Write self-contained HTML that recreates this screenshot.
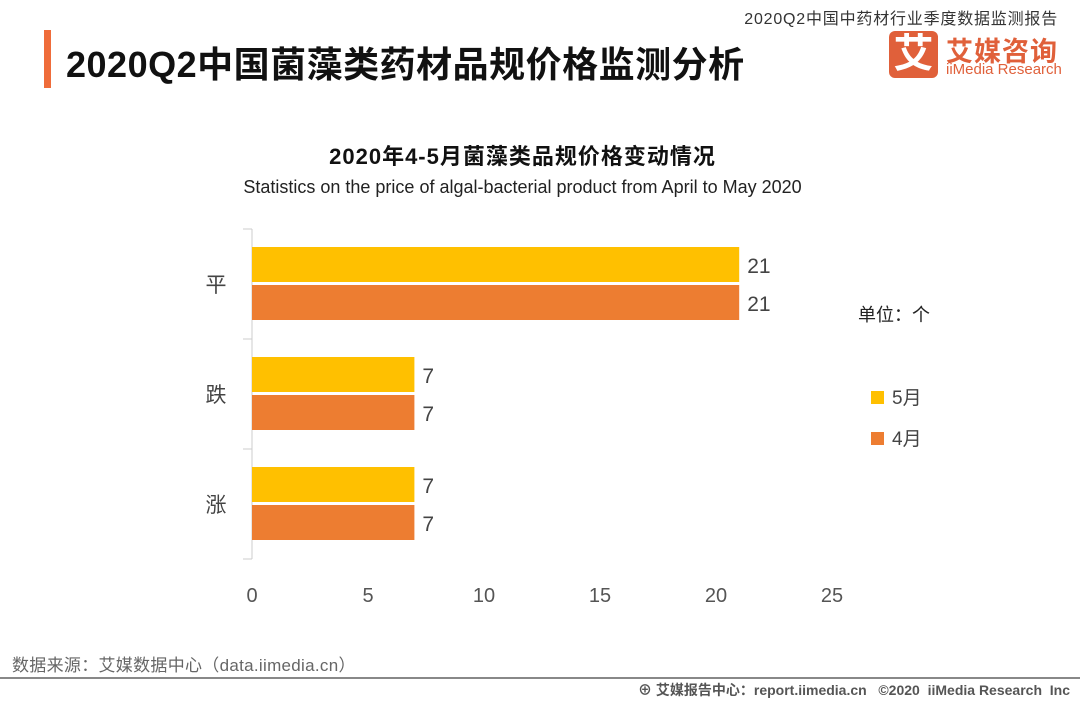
<!DOCTYPE html>
<html><head><meta charset="utf-8"><style>
body{margin:0;width:1080px;height:702px;background:#fff;overflow:hidden;font-family:"Liberation Sans","Noto Sans CJK SC",sans-serif;position:relative}
.a{position:absolute;white-space:nowrap}
</style></head><body>
<div class="a" style="right:22px;top:5px;font-size:16px;letter-spacing:0.8px;color:#333">2020Q2中国中药材行业季度数据监测报告</div>
<div class="a" style="left:44px;top:30px;width:7px;height:58px;background:#ef6c3a"></div>
<div class="a" style="left:66px;top:36px;font-size:36px;letter-spacing:0.5px;font-weight:bold;color:#111">2020Q2中国菌藻类药材品规价格监测分析</div>
<div class="a" style="left:889px;top:31px;width:49px;height:47px;background:#e0603a;border-radius:6px;color:#fff;font-size:40px;font-weight:bold;text-align:center;line-height:47px">艾</div>
<div class="a" style="left:946px;top:30px;font-size:27px;font-weight:bold;color:#e0603a;letter-spacing:1px">艾媒咨询</div>
<div class="a" style="left:946px;top:61px;font-size:15px;color:#e0603a">iiMedia Research</div>
<div class="a" style="left:0;width:1045px;text-align:center;top:139px;font-size:22px;letter-spacing:1px;font-weight:bold;color:#111">2020年4-5月菌藻类品规价格变动情况</div>
<div class="a" style="left:0;width:1045px;text-align:center;top:177px;font-size:18px;color:#222">Statistics on the price of algal-bacterial product from April to May 2020</div>
<div class="a" style="left:858px;top:301px;font-size:18px;color:#222">单位：个</div>
<div class="a" style="left:871px;top:383px;font-size:19px;color:#444"><span style="display:inline-block;width:13px;height:13px;background:#ffc000;margin-right:8px"></span>5月</div>
<div class="a" style="left:871px;top:424px;font-size:19px;color:#444"><span style="display:inline-block;width:13px;height:13px;background:#ed7d31;margin-right:8px"></span>4月</div>
<svg class="a" style="left:0;top:0" width="1080" height="702" id="chart"></svg>
<div class="a" style="left:12px;top:651px;font-size:17px;letter-spacing:0.3px;color:#666">数据来源：艾媒数据中心（data.iimedia.cn）</div>
<div class="a" style="left:0;top:677px;width:1080px;height:2px;background:#888"></div>
<div class="a" style="right:10px;top:680px;font-size:14px;color:#555;font-weight:bold">⊕ 艾媒报告中心：report.iimedia.cn &nbsp; ©2020 &nbsp;iiMedia Research &nbsp;Inc</div>
<script>
const categories=["平","跌","涨"];
const may=[21,7,7];
const april=[21,7,7];
const ticks=[0,5,10,15,20,25];
const svg=document.getElementById('chart');
const NS='http://www.w3.org/2000/svg';
const x0=252,xs=(832-252)/25,top0=229,band=110;
const X=v=>x0+v*xs;
function mk(t,a){const e=document.createElementNS(NS,t);for(const k in a)e.setAttribute(k,a[k]);svg.appendChild(e);return e;}
let ax=mk('line',{x1:x0,x2:x0,y1:top0,y2:top0+band*3,stroke:'#ccc','stroke-width':1});


for(let i=0;i<=3;i++){const t=mk('line',{x1:x0-9,x2:x0,y1:top0+band*i,y2:top0+band*i,stroke:'#ccc'});

}
ticks.forEach(v=>{const t=mk('text',{x:X(v),y:602,'text-anchor':'middle','font-size':20,fill:'#555','font-family':'Liberation Sans, sans-serif'});t.textContent=v;

});
categories.forEach((c,i)=>{const b=top0+band*i;
const l=mk('text',{x:216,y:b+band/2+8,'text-anchor':'middle','font-size':21,fill:'#444','font-family':'Noto Sans CJK SC, sans-serif'});l.textContent=c;


[[may[i],'#ffc000',18,'bar-may'],[april[i],'#ed7d31',56,'bar-april']].forEach(([v,col,off,nm])=>{
const r=mk('rect',{x:x0,y:b+off,width:X(v)-x0,height:35,fill:col});


const t=mk('text',{x:X(v)+8,y:b+off+26,'font-size':21,fill:'#444','font-family':'Liberation Sans, sans-serif'});t.textContent=v;

});
});
</script>
</body></html>
